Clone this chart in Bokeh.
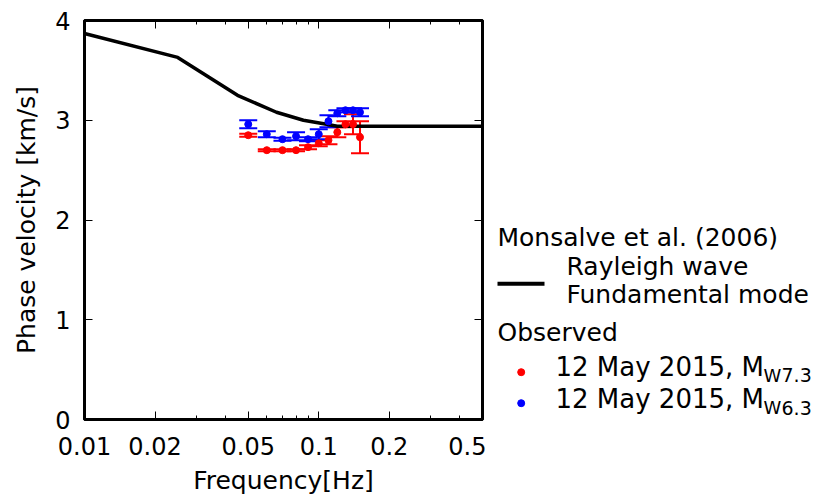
from bokeh.plotting import figure
from bokeh.models import (Range1d, FixedTicker, CustomJSTickFormatter, Whisker,
                          ColumnDataSource, TeeHead, LinearAxis, LogAxis)
from bokeh.layouts import row
from bokeh.embed import file_html
from bokeh.resources import INLINE
from bokeh.core.properties import value

# ---- data ----
model_freq = [0.01, 0.025, 0.045, 0.066, 0.086, 0.105, 0.12, 0.5]
model_vel = [3.87, 3.63, 3.25, 3.08, 3.00, 2.965, 2.94, 2.94]

obs_freq = [0.05, 0.06, 0.07, 0.08, 0.09, 0.10, 0.11, 0.12, 0.13, 0.14, 0.15]
mw73_vel = [2.85, 2.70, 2.70, 2.70, 2.73, 2.77, 2.80, 2.88, 2.96, 2.96, 2.83]
mw73_err = [0.015, 0.01, 0.01, 0.01, 0.02, 0.03, 0.04, 0.05, 0.03, 0.10, 0.16]
mw63_vel = [2.96, 2.86, 2.81, 2.84, 2.81, 2.86, 2.99, 3.07, 3.10, 3.10, 3.08]
mw63_err = [0.04, 0.03, 0.015, 0.04, 0.02, 0.05, 0.06, 0.03, 0.02, 0.02, 0.04]

x_major = [0.01, 0.02, 0.05, 0.1, 0.2, 0.5]
x_minor = [0.03, 0.04, 0.06, 0.07, 0.08, 0.09, 0.3, 0.4]
y_major = [0, 1, 2, 3, 4]

legend_title = "Monsalve et al. (2006)"
legend_model = ["Rayleigh wave", "Fundamental mode"]
legend_obs = "Observed"
legend_ev = ["12 May 2015, M", "12 May 2015, M"]
legend_mag = ["7.3", "6.3"]

FONT = "DejaVu Sans"
RED = "#ff0000"
BLUE = "#0000ff"

# geometry (canvas pixels)
BL, BT, FW, FH, BR = 84, 20, 398, 399, 4
H = 500
W1 = BL + FW + BR
W2 = 812 - W1

p = figure(width=W1, height=H, x_axis_type="log",
           x_range=Range1d(0.01, 0.5), y_range=Range1d(0, 4),
           output_backend="svg", toolbar_location=None,
           min_border_left=BL, min_border_right=BR,
           min_border_top=BT, min_border_bottom=H - BT - FH)
p.grid.visible = False
p.outline_line_color = "black"
p.outline_line_width = 3

def style_axis(ax, labels=True):
    ax.axis_line_color = "black"
    ax.axis_line_width = 3
    ax.major_tick_in = 8
    ax.major_tick_out = 0
    ax.minor_tick_in = 4
    ax.minor_tick_out = 0
    ax.major_tick_line_color = "black"
    ax.minor_tick_line_color = "black"
    ax.major_tick_line_width = 1
    ax.minor_tick_line_width = 1
    ax.major_label_text_font = FONT
    ax.major_label_text_color = "black"
    ax.axis_label_text_font = FONT
    ax.axis_label_text_font_style = "normal"
    ax.axis_label_text_color = "black"
    if labels:
        ax.major_label_text_font_size = "24px"
        ax.axis_label_text_font_size = "25px"
    else:
        ax.major_label_text_font_size = "0px"
        ax.major_label_standoff = 0

xa = p.xaxis[0]
xa.ticker = FixedTicker(ticks=x_major, minor_ticks=x_minor)
xa.formatter = CustomJSTickFormatter(code="return String(tick);")
xa.axis_label = "Frequency[Hz]"
style_axis(xa)
xa.major_label_standoff = 17
xa.axis_label_standoff = 8

ya = p.yaxis[0]
ya.ticker = FixedTicker(ticks=y_major)
ya.axis_label = "Phase velocity [km/s]"
style_axis(ya)
ya.major_label_standoff = 14
ya.axis_label_standoff = 11

top = LogAxis(ticker=FixedTicker(ticks=x_major, minor_ticks=x_minor),
              formatter=CustomJSTickFormatter(code="return '';"))
style_axis(top, labels=False)
p.add_layout(top, "above")
right = LinearAxis(ticker=FixedTicker(ticks=y_major),
                   formatter=CustomJSTickFormatter(code="return '';"))
style_axis(right, labels=False)
p.add_layout(right, "right")

# model curve
p.line(model_freq, model_vel, line_color="black", line_width=3.5)

def add_series(vel, err, color):
    src = ColumnDataSource(dict(
        x=obs_freq, y=vel,
        upper=[v + e for v, e in zip(vel, err)],
        lower=[v - e for v, e in zip(vel, err)]))
    w = Whisker(base="x", upper="upper", lower="lower", dimension="height",
                source=src, line_color=color, line_width=2,
                upper_head=TeeHead(size=18, line_color=color, line_width=2),
                lower_head=TeeHead(size=18, line_color=color, line_width=2))
    p.add_layout(w)
    p.scatter("x", "y", source=src, size=7, color=color)

add_series(mw73_vel, mw73_err, RED)
add_series(mw63_vel, mw63_err, BLUE)

# ---- legend panel: its frame lines up with the plot frame; ranges in page px ----
lg = figure(width=W2, height=H, x_range=Range1d(W1, W1 + W2),
            y_range=Range1d(BT + FH, BT), output_backend="svg",
            toolbar_location=None, min_border_left=0, min_border_right=0,
            min_border_top=BT, min_border_bottom=H - BT - FH)
lg.axis.visible = False
lg.grid.visible = False
lg.outline_line_color = None

def txt(x, baseline, s, size=25):
    lg.text(x=[x], y=[baseline - 0.346 * size], text=[s], text_font=value(FONT),
            text_font_size=f"{size}px", text_color="black",
            text_align="left", text_baseline="middle")

txt(497, 245.7, legend_title)
lg.line([497, 544], [283.3, 283.3], line_color="black", line_width=4)
txt(566, 275, legend_model[0])
txt(566, 302.3, legend_model[1])
txt(497, 340.5, legend_obs)
for i, (yd, yb, c) in enumerate([(371.7, 375.0, RED), (402.7, 407.7, BLUE)]):
    lg.scatter([520.7], [yd], size=7, color=c)
    txt(555, yb, legend_ev[i], size=26)
    txt(763, yb + 6, "W", size=18)
    txt(781, yb + 6, legend_mag[i], size=19)

open("out.html", "w").write(file_html(row(p, lg), INLINE))
